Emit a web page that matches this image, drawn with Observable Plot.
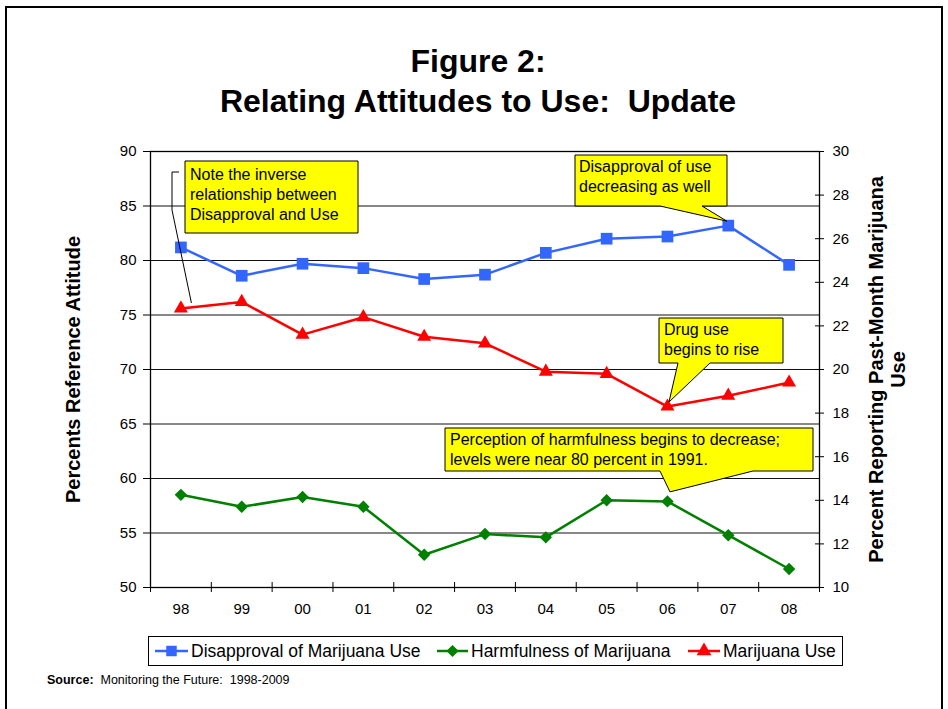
<!DOCTYPE html>
<html><head><meta charset="utf-8">
<script src="https://cdn.jsdelivr.net/npm/d3@7"></script>
<script src="https://cdn.jsdelivr.net/npm/@observablehq/plot@0.6"></script>
<style>
body{margin:0;background:#fff;font-family:"Liberation Sans",Arial,sans-serif;}
#page{position:relative;width:948px;height:709px;overflow:hidden;background:#fff;}
#border{position:absolute;left:5px;top:6px;width:938px;height:780px;border:2px solid #000;box-sizing:border-box;}
#title{position:absolute;left:0;top:41px;width:956px;text-align:center;font-weight:bold;font-size:32px;line-height:40px;color:#000;}
#chart{position:absolute;left:0;top:0;}
#overlay{position:absolute;left:0;top:0;}
#source{position:absolute;left:47px;top:673px;font-size:12.5px;color:#000;white-space:pre;}
</style></head>
<body><div id="page">
<div id="border"></div>
<div id="title">Figure 2:<br>Relating Attitudes to Use:&nbsp; Update</div>
<div id="chart"></div>
<svg id="overlay" width="948" height="709"></svg>
<div id="source"><b>Source:</b>  Monitoring the Future:  1998-2009</div>
</div>
<script>
const years = ["98","99","00","01","02","03","04","05","06","07","08"];
const disapproval = [81.2,78.6,79.7,79.3,78.3,78.7,80.7,82.0,82.2,83.2,79.6];
const harmfulness = [58.5,57.4,58.3,57.4,53.0,54.9,54.6,58.0,57.9,54.8,51.7];
const marijuanaUse = [22.8,23.1,21.6,22.4,21.5,21.2,19.9,19.8,18.3,18.8,19.4];
const leftTicks = [50,55,60,65,70,75,80,85,90];
const rightTicks = [10,12,14,16,18,20,22,24,26,28,30];
const seriesNames = ["Disapproval of Marijuana Use","Harmfulness of Marijuana","Marijuana Use"];
const seriesColors = ["#3366FF","#008000","#FF0000"];
const leftLabel = "Percents Reference Attitude";
const rightLabel = "Percent Reporting Past-Month Marijuana\nUse";

const FONT = "Liberation Sans, Arial, sans-serif";
// right axis (10..30) mapped onto left axis (50..90)
const toLeft = v => 50 + (v - 10) * 2;
const fromLeft = v => (v - 50) / 2 + 10;
const rows = (vals, f = v => v) => vals.map((v, i) => ({i, year: years[i], v: f(v)}));
const dis = rows(disapproval), harm = rows(harmfulness), use = rows(marijuanaUse, toLeft);
const last = years.length - 0.5;
const boundaries = d3.range(years.length + 1).map(k => k - 0.5);

const plot = Plot.plot({
  width: 948, height: 709,
  marginTop: 151, marginBottom: 122, marginLeft: 150, marginRight: 129,
  style: {background: "transparent", fontFamily: FONT, fontSize: "15px", color: "#000", overflow: "visible"},
  x: {domain: [-0.5, last]},
  y: {domain: [50, 90]},
  marks: [
    Plot.ruleY(leftTicks.slice(1, -1), {stroke: "#111", strokeWidth: 1}),
    Plot.frame({stroke: "#000", strokeWidth: 1.3}),
    Plot.axisY(leftTicks, {anchor: "left", tickSize: 7, tickPadding: 7, label: null, fontSize: 15}),
    Plot.ruleY(rightTicks.map(toLeft), {x1: last, x2: last, insetLeft: -4, insetRight: -5, stroke: "#000"}),
    Plot.axisY(rightTicks.map(toLeft), {anchor: "right", tickSize: 0, tickPadding: 13, tickFormat: v => fromLeft(v), label: null, fontSize: 15}),
    Plot.ruleX(boundaries, {y1: 50, y2: 50, insetTop: -5, insetBottom: -5, stroke: "#000"}),
    Plot.axisX(d3.range(years.length), {tickSize: 0, tickPadding: 16, tickFormat: i => years[i], label: null, fontSize: 15}),
    Plot.line(dis, {x: "i", y: "v", stroke: seriesColors[0], strokeWidth: 2.5}),
    Plot.line(harm, {x: "i", y: "v", stroke: seriesColors[1], strokeWidth: 2.5}),
    Plot.line(use, {x: "i", y: "v", stroke: seriesColors[2], strokeWidth: 2.5}),
    Plot.dot(dis, {x: "i", y: "v", symbol: "square", r: 6.6, fill: seriesColors[0], stroke: "none"}),
    Plot.dot(harm, {x: "i", y: "v", symbol: "diamond2", r: 5.6, fill: seriesColors[1], stroke: "none"}),
    Plot.dot(use, {x: "i", y: "v", symbol: "triangle", r: 5.2, fill: seriesColors[2], stroke: "none"}),
    Plot.text([leftLabel], {text: d => d, frameAnchor: "left", textAnchor: "middle", rotate: -90, dx: -77, fontSize: 20, fontWeight: "bold"}),
    Plot.text([rightLabel], {text: d => d, frameAnchor: "right", textAnchor: "middle", rotate: -90, dx: 67, fontSize: 20, fontWeight: "bold", lineHeight: 1.1})
  ]
});
document.getElementById("chart").appendChild(plot);

const sx = plot.scale("x"), sy = plot.scale("y");
const pt = (series, i) => [sx.apply(series[i].i), sy.apply(series[i].v)];

const svg = d3.select("#overlay").style("font-family", FONT);

// callouts
const callouts = [
  {box: [185, 161, 358, 233], lines: ["Note the inverse", "relationship between", "Disapproval and Use"], tx: 190, ty: 180},
  {box: [575, 155, 727, 206], lines: ["Disapproval of use", "decreasing as well"], tx: 579, ty: 172,
   ptr: {b1: 660, b2: 702, at: pt(dis, 9), dx: -1, dy: -4}},
  {box: [659, 318, 783, 363], lines: ["Drug use", "begins to rise"], tx: 664, ty: 335,
   ptr: {b1: 678, b2: 710, at: pt(use, 8), dx: 2, dy: -4}},
  {box: [445, 428, 813, 471], lines: ["Perception of harmfulness begins to decrease;", "levels were near 80 percent in 1991."], tx: 450, ty: 445,
   ptr: {b1: 660, b2: 753, at: pt(harm, 8), dx: 3, dy: -9}}
];
for (const c of callouts) {
  const [x0, y0, x1, y1] = c.box;
  let d = `M${x0},${y0}H${x1}V${y1}`;
  if (c.ptr) {
    const tx = c.ptr.at[0] + c.ptr.dx, ty = c.ptr.at[1] + c.ptr.dy;
    d += `H${c.ptr.b2}L${tx},${ty}L${c.ptr.b1},${y1}`;
  }
  d += `H${x0}Z`;
  svg.append("path").attr("d", d).attr("fill", "#FFFF00").attr("stroke", "#000").attr("stroke-width", 1);
  c.lines.forEach((t, k) => svg.append("text").attr("x", c.tx).attr("y", c.ty + k * 20)
    .attr("font-size", 16).attr("fill", "#000").text(t));
}
// leader bracket for the first note
const r0 = pt(use, 0);
svg.append("polyline")
  .attr("points", [[179, 172], [172, 172], [172, 210], [r0[0] + 11, r0[1] - 5]].map(p => p.join(",")).join(" "))
  .attr("fill", "none").attr("stroke", "#000").attr("stroke-width", 1);

// legend
const lg = svg.append("g");
lg.append("rect").attr("x", 148.5).attr("y", 636.5).attr("width", 694).attr("height", 29)
  .attr("fill", "#fff").attr("stroke", "#000").attr("stroke-width", 1);
const legendItems = [
  {x0: 155, x1: 188, tx: 191, sym: d3.symbolSquare, size: 110},
  {x0: 437, x1: 468, tx: 471, sym: d3.symbolDiamond2, size: 95},
  {x0: 688, x1: 720, tx: 723, sym: d3.symbolTriangle, size: 95}
];
legendItems.forEach((it, k) => {
  const cy = 651;
  lg.append("line").attr("x1", it.x0).attr("x2", it.x1).attr("y1", cy).attr("y2", cy)
    .attr("stroke", seriesColors[k]).attr("stroke-width", 2.5);
  lg.append("path").attr("d", d3.symbol(it.sym, it.size)())
    .attr("transform", `translate(${(it.x0 + it.x1) / 2},${cy})`).attr("fill", seriesColors[k]);
  lg.append("text").attr("x", it.tx).attr("y", 657).attr("font-size", 17.5).attr("fill", "#000").text(seriesNames[k]);
});
</script>
</body></html>
